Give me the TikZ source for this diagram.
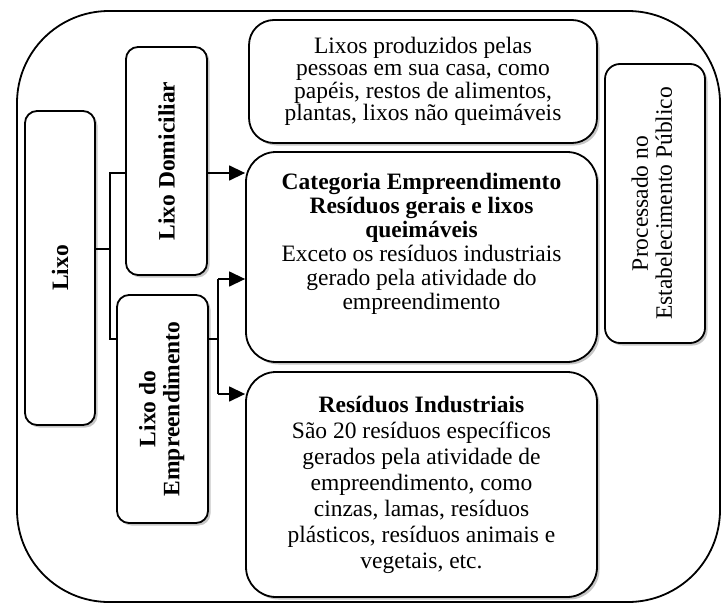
\documentclass[tikz,border=0pt]{standalone}
\usepackage{fontspec}
\setmainfont{Liberation Serif}
\usetikzlibrary{arrows.meta, calc, positioning, shadows}
\def\fsize{23.5}
\def\lineGap{24}
\def\busX{110}
\def\forkX{218}

\tikzset{
  box/.style={draw, line width=1.8pt, fill=white, inner sep=0pt, align=center,
    drop shadow={shadow xshift=2.5pt, shadow yshift=-2.5pt, fill=gray!45, opacity=1}},
  conn/.style={line width=1.4pt},
  arr/.style={conn, -{Triangle[length=16pt,width=15pt]}},
}

\begin{document}
\begin{tikzpicture}[x=1pt, y=-1pt, font=\fontsize{\fsize}{\lineGap}\selectfont]
  \useasboundingbox (0,0) rectangle (725,605);

  % Draw outer frame
  \draw[line width=1.8pt, rounded corners=92pt] (17,11) rectangle (720,602);

  % Draw left column
  \node[box, rounded corners=12pt, minimum width=70pt, minimum height=314pt] (lixo) at (60,268)
    {\rotatebox{90}{\textbf{Lixo}}};
  \node[box, rounded corners=12pt, minimum width=81pt, minimum height=228pt] (domic) at (166.5,161)
    {\rotatebox{90}{\textbf{Lixo Domiciliar}}};
  \node[box, rounded corners=12pt, minimum width=91pt, minimum height=228pt] (empr) at (162.5,409)
    {\rotatebox{90}{\begin{tabular}{@{}c@{}}\textbf{Lixo do}\\\textbf{Empreendimento}\end{tabular}}};

  % Draw right column
  \node[box, rounded corners=25pt, minimum width=348pt, minimum height=123pt,
        font=\fontsize{\fsize}{22.5}\selectfont] (casa) at (423,81.5)
    {Lixos produzidos pelas\\pessoas em sua casa, como\\papéis, restos de alimentos,\\plantas, lixos não queimáveis};
  \node[box, rounded corners=30pt, minimum width=351pt, minimum height=210pt] (cat) at (421.5,257) {};
  \node[anchor=north, align=center, inner sep=0pt] (catText) at ($(cat.north)+(0,22)$)
    {\textbf{Categoria Empreendimento}\\\textbf{Resíduos gerais e lixos}\\\textbf{queimáveis}\\
     Exceto os resíduos industriais\\gerado pela atividade do\\empreendimento};
  \node[box, rounded corners=30pt, minimum width=351pt, minimum height=225pt,
        font=\fontsize{\fsize}{26}\selectfont] (ind) at (421.5,484.5)
    {\textbf{Resíduos Industriais}\\São 20 resíduos específicos\\gerados pela atividade de\\
     empreendimento, como\\cinzas, lamas, resíduos\\plásticos, resíduos animais e\\vegetais, etc.};
  \node[box, rounded corners=15pt, minimum width=100pt, minimum height=279pt] (proc) at (655,203.5)
    {\rotatebox{90}{\begin{tabular}{@{}c@{}}Processado no\\Estabelecimento Público\end{tabular}}};

  % Draw connectors
  \coordinate (busTop) at (\busX,173);
  \coordinate (busMid) at (\busX,249);
  \coordinate (busBot) at (\busX,339);
  \coordinate (forkTop) at (\forkX,279);
  \coordinate (forkMid) at (\forkX,339);
  \coordinate (forkBot) at (\forkX,394);

  \draw[conn] (lixo.east |- busMid) -- (busMid);
  \draw[conn] (busTop -| domic.west) -- (busTop) -- (busBot) -- (busBot -| empr.west);
  \draw[arr] (domic.east |- busTop) -- (cat.west |- busTop);
  \draw[conn] (empr.east |- forkMid) -- (forkMid);
  \draw[conn] (forkTop) -- (forkBot);
  \draw[arr] (forkTop) -- (forkTop -| cat.west);
  \draw[arr] (forkBot) -- (forkBot -| ind.west);
\end{tikzpicture}
\end{document}
